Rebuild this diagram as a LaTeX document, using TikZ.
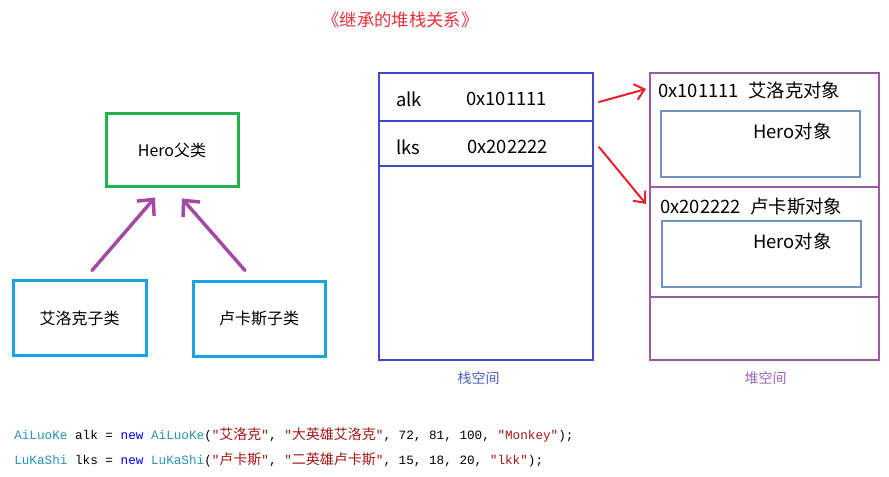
\documentclass[tikz,border=0pt]{standalone}
\usepackage{fontspec}
\usetikzlibrary{arrows.meta,calc}
\newfontfamily\cjk{Noto Sans CJK SC}
\newfontfamily\mono{Liberation Mono}
\newcommand\zh[1]{{\cjk\fontsize{10.5pt}{12pt}\selectfont #1}}
\definecolor{heroG}{HTML}{22B14C}
\definecolor{subC}{HTML}{1CA3DF}
\definecolor{inhP}{HTML}{A349A4}
\definecolor{stackB}{HTML}{3F48CC}
\definecolor{heapP}{HTML}{9B59A6}
\definecolor{innerB}{HTML}{7092BE}
\definecolor{ptrR}{HTML}{E8202A}
\definecolor{titleR}{HTML}{E8303A}
\definecolor{stackL}{HTML}{4E5CC4}
\definecolor{heapL}{HTML}{A064B4}
\definecolor{codeT}{HTML}{2B91AF}
\definecolor{codeK}{HTML}{0000FF}
\definecolor{codeS}{HTML}{A31515}
\begin{document}
\begin{tikzpicture}[x=0.75pt,y=-0.75pt,
  txt/.style={font=\cjk\fontsize{13.8pt}{16pt}\selectfont, inner sep=0pt, anchor=west},
  classbox/.style={draw, line width=2.25pt, font=\cjk\fontsize{12pt}{14pt}\selectfont, inner sep=0pt},
  stackbox/.style={draw=stackB, line width=1.5pt, minimum width=160.5pt, inner sep=0pt},
  heapbox/.style={draw=heapP, line width=1.5pt, minimum width=171.75pt, inner sep=0pt},
  innerbox/.style={draw=innerB, line width=1.5pt, minimum width=149.25pt, minimum height=49.5pt, inner sep=0pt},
  inh/.style={draw=inhP, line width=2.6pt, line cap=round, -{Straight Barb[length=9pt,width=17pt]}},
  ptr/.style={draw=ptrR, line width=1.5pt, line cap=round, -{Straight Barb[length=7pt,width=12pt]}},
  codeline/.style={font=\mono\fontsize{9.5pt}{11pt}\selectfont, inner sep=0pt, anchor=west},
  spacelbl/.style={font=\cjk\fontsize{10.5pt}{12pt}\selectfont, inner sep=0pt}
]
\useasboundingbox (0,0) rectangle (889,477);

% title
\node[font=\cjk\fontsize{13pt}{15pt}\selectfont, text=titleR, inner sep=0pt] (title) at (400.5,20) {《继承的堆栈关系》};

% class diagram
\node[classbox, draw=heroG, minimum width=99pt, minimum height=54.75pt] (hero) at (172,150.5) {Hero父类};
\node[classbox, draw=subC, minimum width=99.75pt, minimum height=55.5pt] (c1) at (79.5,318) {艾洛克子类};
\node[classbox, draw=subC, minimum width=99pt, minimum height=55.5pt] (c2) at (259,319) {卢卡斯子类};
\draw[inh] ($(c1.north)+(12.5,-9)$) -- ($(hero.south)+(-17,9)$);
\draw[inh] ($(c2.north)+(-14,-10)$) -- ($(hero.south)+(10,10)$);

% stack
\node[stackbox, minimum height=215.25pt] (stack) at (486,216.5) {};
\node[stackbox, minimum height=36pt] (row1) at (486,97) {};
\node[stackbox, minimum height=33.75pt] (row2) at (486,143.5) {};
\node[txt] (alk) at (396,99) {alk};
\node[txt] (addr1) at (466,99) {0x101111};
\node[txt] (lks) at (396,147) {lks};
\node[txt] (addr2) at (467,147) {0x202222};
\node[spacelbl, text=stackL] (stacklbl) at (478.5,378) {栈空间};

% heap
\node[heapbox, minimum height=215.25pt] (heap) at (764.5,216.5) {};
\node[heapbox, minimum height=85.5pt] (hobj1) at (764.5,130) {};
\node[heapbox, minimum height=82.5pt] (hobj2) at (764.5,242) {};
\node[innerbox] (inner1) at (760.5,144) {};
\node[innerbox] (inner2) at (761.5,254) {};
\node[txt] (h1) at (658,90) {0x101111\hspace{7pt}艾洛克对象};
\node[txt] (h2) at (660,207) {0x202222\hspace{7pt}卢卡斯对象};
\node[txt] (hero1) at (753,131) {Hero对象};
\node[txt] (hero2) at (753,241) {Hero对象};
\node[spacelbl, text=heapL] (heaplbl) at (765.5,378) {堆空间};

% pointers
\draw[ptr] ($(row1.east)+(5,5)$) -- ($(hobj1.north west)+(-3,17)$);
\draw[ptr] ($(row2.east)+(5,3.5)$) -- ($(hobj2.north west)+(-3,18)$);

% code
\node[codeline] (code1) at (14,435) {\textcolor{codeT}{AiLuoKe} alk = \textcolor{codeK}{new} \textcolor{codeT}{AiLuoKe}(\textcolor{codeS}{"\zh{艾洛克}"}, \textcolor{codeS}{"\zh{大英雄艾洛克}"}, 72, 81, 100, \textcolor{codeS}{"Monkey"});};
\node[codeline] (code2) at (14,460) {\textcolor{codeT}{LuKaShi} lks = \textcolor{codeK}{new} \textcolor{codeT}{LuKaShi}(\textcolor{codeS}{"\zh{卢卡斯}"}, \textcolor{codeS}{"\zh{二英雄卢卡斯}"}, 15, 18, 20, \textcolor{codeS}{"lkk"});};
\end{tikzpicture}
\end{document}
